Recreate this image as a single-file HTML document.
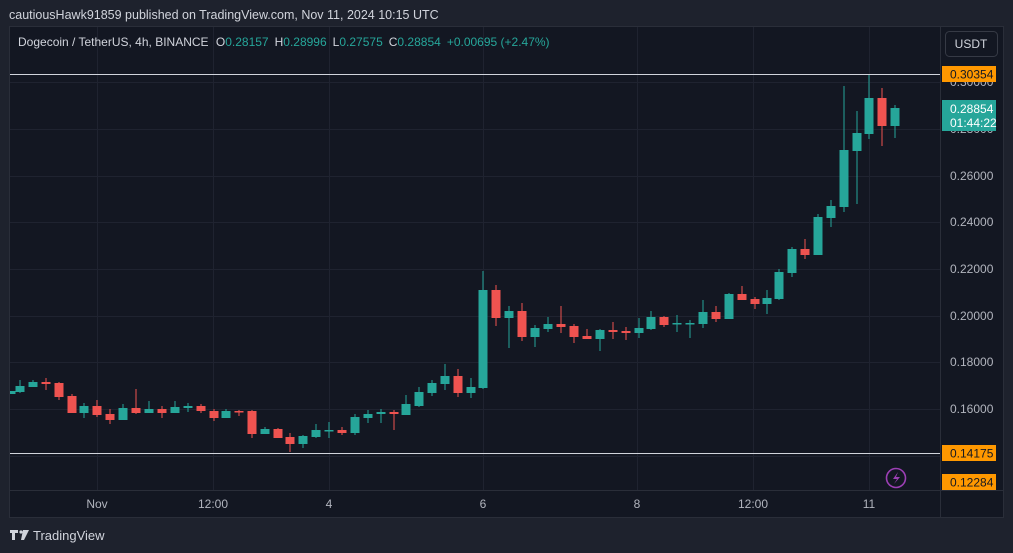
<!DOCTYPE html>
<html><head><meta charset="utf-8"><style>
html,body{margin:0;padding:0;width:1013px;height:553px;overflow:hidden;background:#1e222d;font-family:"Liberation Sans",sans-serif}
svg{display:block}
</style></head><body>
<svg id="s" width="1013" height="553" xmlns="http://www.w3.org/2000/svg" font-family="Liberation Sans, sans-serif">
<defs><clipPath id="cp"><rect x="10" y="27" width="930" height="463"/></clipPath></defs>
<rect width="1013" height="553" fill="#1e222d"/>
<text x="9" y="19" fill="#d1d4dc" font-size="12.5">cautiousHawk91859 published on TradingView.com, Nov 11, 2024 10:15 UTC</text>
<rect x="9.5" y="26.5" width="994" height="491" fill="#131722" stroke="#2a2e39"/>
<g stroke="#1f2330" stroke-width="1">
<line x1="10" x2="940" y1="82.5" y2="82.5"/><line x1="10" x2="940" y1="129.5" y2="129.5"/>
<line x1="10" x2="940" y1="176.5" y2="176.5"/><line x1="10" x2="940" y1="222.5" y2="222.5"/>
<line x1="10" x2="940" y1="269.5" y2="269.5"/><line x1="10" x2="940" y1="316.5" y2="316.5"/>
<line x1="10" x2="940" y1="362.5" y2="362.5"/><line x1="10" x2="940" y1="409.5" y2="409.5"/>
<line x1="10" x2="940" y1="456.5" y2="456.5"/>
<line x1="97.5" x2="97.5" y1="27" y2="490"/><line x1="213.5" x2="213.5" y1="27" y2="490"/>
<line x1="329.5" x2="329.5" y1="27" y2="490"/><line x1="483.5" x2="483.5" y1="27" y2="490"/>
<line x1="637.5" x2="637.5" y1="27" y2="490"/><line x1="753.5" x2="753.5" y1="27" y2="490"/>
<line x1="869.5" x2="869.5" y1="27" y2="490"/>
</g>
<line x1="940.5" x2="940.5" y1="27" y2="517" stroke="#2a2e39"/>
<line x1="10" x2="1003" y1="490.5" y2="490.5" stroke="#2a2e39"/>
<text x="18" y="46" fill="#d1d4dc" font-size="12">Dogecoin / TetherUS, 4h, BINANCE <tspan dx="4">O</tspan><tspan fill="#26a69a">0.28157</tspan><tspan dx="6">H</tspan><tspan fill="#26a69a">0.28996</tspan><tspan dx="6">L</tspan><tspan fill="#26a69a">0.27575</tspan><tspan dx="6">C</tspan><tspan fill="#26a69a">0.28854</tspan><tspan dx="6" fill="#26a69a">+0.00695 (+2.47%)</tspan></text>
<rect x="945.5" y="31.5" width="52" height="25" rx="4" fill="#131722" stroke="#363a45"/>
<text x="971" y="48" fill="#d1d4dc" font-size="12" text-anchor="middle">USDT</text>
<g id="c" clip-path="url(#cp)"></g>
<line x1="10" x2="940" y1="74.5" y2="74.5" stroke="#d1d4dc" stroke-width="1"/>
<line x1="10" x2="940" y1="453.5" y2="453.5" stroke="#d1d4dc" stroke-width="1"/>
<g fill="#b2b5be" font-size="12" text-anchor="start">
<text x="950" y="86">0.30000</text><text x="950" y="133">0.28000</text>
<text x="950" y="180">0.26000</text><text x="950" y="226">0.24000</text>
<text x="950" y="273">0.22000</text><text x="950" y="320">0.20000</text>
<text x="950" y="366">0.18000</text><text x="950" y="413">0.16000</text>
</g>
<rect x="942" y="66" width="54" height="16" fill="#ff9800"/>
<text x="950" y="78.5" fill="#131722" font-size="12">0.30354</text>
<rect x="942" y="100" width="54" height="31" fill="#26a69a"/>
<text x="950" y="113" fill="#ffffff" font-size="12">0.28854</text>
<text x="950" y="127" fill="#ffffff" font-size="12">01:44:22</text>
<rect x="942" y="445" width="54" height="16" fill="#ff9800"/>
<text x="950" y="457.5" fill="#131722" font-size="12">0.14175</text>
<rect x="942" y="474" width="54" height="16" fill="#ff9800"/>
<text x="950" y="486.5" fill="#131722" font-size="12">0.12284</text>
<circle cx="896" cy="478" r="9.5" fill="none" stroke="#9c3fb5" stroke-width="1.6"/>
<path d="M898 472 L893 479 L897 479 L894 484 L900 477 L896 477 Z" fill="#9c3fb5"/>
<g fill="#b2b5be" font-size="12" text-anchor="middle">
<text x="97" y="508">Nov</text><text x="213" y="508">12:00</text><text x="329" y="508">4</text>
<text x="483" y="508">6</text><text x="637" y="508">8</text><text x="753" y="508">12:00</text>
<text x="869" y="508">11</text>
</g>
<g fill="#d1d4dc"><path d="M10 530 h8 v3 h-3 v7 h-3 v-7 h-2z"/><circle cx="21" cy="532" r="1.6"/><path d="M23 530 h6 l-5 10 h-3z"/></g>
<text x="33" y="540" fill="#d1d4dc" font-size="13">TradingView</text>
</svg>
<script>
var d=[[11,'g',391,394,391,394],[20,'g',386,392,380,393],[33,'g',382,387,380,387],[46,'r',382,384,378,390],[59,'r',383,397,382,400],[72,'r',396,413,394,413],[84,'g',406,413,403,418],[97,'r',406,415,400,417],[110,'r',414,420,409,424],[123,'g',408,420,404,420],[136,'r',408,413,389,414],[149,'g',409,413,401,413],[162,'r',409,413,406,418],[175,'g',407,413,401,413],[188,'g',406,408,403,412],[201,'r',406,411,404,413],[214,'r',411,418,409,421],[226,'g',411,418,409,418],[239,'r',411,412,410,416],[252,'r',411,434,410,438],[265,'g',429,434,427,434],[278,'r',429,438,428,438],[290,'r',437,444,433,452],[303,'g',436,444,435,448],[316,'g',430,437,424,438],[329,'g',430,431,422,438],[342,'r',430,433,427,435],[355,'g',417,433,414,435],[368,'g',414,418,410,423],[381,'g',412,414,409,423],[394,'r',412,414,410,430],[406,'g',404,415,395,415],[419,'g',392,406,387,407],[432,'g',383,393,380,396],[445,'g',376,384,364,390],[458,'r',376,393,369,397],[471,'g',387,393,378,398],[483,'g',290,388,271,389],[496,'r',290,318,285,326],[509,'g',311,318,306,348],[522,'r',311,337,303,341],[535,'g',328,337,325,347],[548,'g',324,329,317,332],[561,'r',324,327,306,333],[574,'r',326,337,324,343],[587,'r',336,339,329,339],[600,'g',330,339,329,351],[613,'r',330,332,322,339],[626,'r',331,333,327,340],[639,'g',328,333,318,338],[651,'g',317,329,311,330],[664,'r',317,325,316,327],[677,'g',323,324,315,332],[690,'g',323,324,320,338],[703,'g',312,324,300,328],[716,'r',312,319,306,322],[729,'g',294,319,293,319],[742,'r',294,300,286,300],[755,'r',299,304,297,309],[767,'g',298,304,290,314],[779,'g',272,299,269,300],[792,'g',249,273,247,277],[805,'r',249,255,239,259],[818,'g',217,255,214,255],[831,'g',206,218,200,227],[844,'g',150,207,86,212],[857,'g',133,151,111,204],[869,'g',98,134,74,139],[882,'r',98,126,88,146],[895,'g',108,126,105,138]];
var s='';d.forEach(function(c){var col=c[1]=='g'?'#26a69a':'#ef5350';var h=Math.max(c[3]-c[2],1.5);
s+='<rect x="'+(c[0]-0.5)+'" y="'+c[4]+'" width="1" height="'+(c[5]-c[4])+'" fill="'+col+'"/>';
s+='<rect x="'+(c[0]-4.5)+'" y="'+c[2]+'" width="9" height="'+h+'" fill="'+col+'"/>';});
document.getElementById('c').innerHTML=s;
</script>
</body></html>
